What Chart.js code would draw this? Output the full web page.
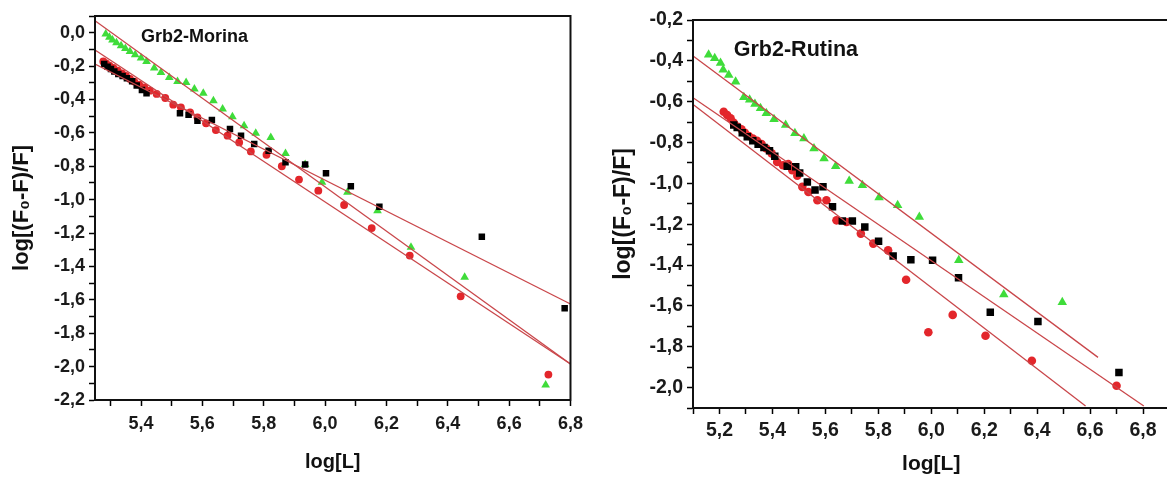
<!DOCTYPE html>
<html>
<head>
<meta charset="utf-8">
<script src="https://cdn.jsdelivr.net/npm/chart.js@4.4.0/dist/chart.umd.min.js"></script>
<style>
  html, body { margin: 0; padding: 0; background: #fff; overflow: hidden; }
  body { width: 1167px; height: 477px; position: relative; }
  .panel { position: absolute; top: 0; }
  #left { left: 0; width: 590px; height: 477px; }
  #right { left: 600px; width: 580px; height: 477px; }
</style>
</head>
<body>
<div class="panel" id="left"><canvas id="chartMorina" width="590" height="477"></canvas></div>
<div class="panel" id="right"><canvas id="chartRutina" width="580" height="477"></canvas></div>
<script>
// ---- Grb2-Morina (left) ----
const morinaBlackX = [5.280, 5.291, 5.302, 5.313, 5.326, 5.340, 5.354, 5.371, 5.386, 5.403, 5.418, 5.527, 5.555, 5.584, 5.631, 5.690, 5.726, 5.769, 5.816, 5.871, 5.935, 6.003, 6.084, 6.177, 6.511, 6.781];
const morinaBlackY = [-0.188, -0.204, -0.218, -0.232, -0.248, -0.260, -0.273, -0.291, -0.317, -0.343, -0.363, -0.483, -0.491, -0.527, -0.523, -0.577, -0.617, -0.667, -0.707, -0.776, -0.790, -0.842, -0.920, -1.042, -1.222, -1.651];
const morinaRedX = [5.277, 5.286, 5.297, 5.310, 5.324, 5.338, 5.351, 5.364, 5.378, 5.394, 5.411, 5.429, 5.451, 5.479, 5.505, 5.530, 5.560, 5.584, 5.612, 5.644, 5.682, 5.720, 5.758, 5.809, 5.859, 5.915, 5.978, 6.062, 6.152, 6.276, 6.442, 6.728];
const morinaRedY = [-0.172, -0.184, -0.198, -0.211, -0.228, -0.244, -0.259, -0.277, -0.293, -0.311, -0.327, -0.347, -0.367, -0.391, -0.431, -0.447, -0.477, -0.507, -0.543, -0.583, -0.617, -0.657, -0.711, -0.731, -0.800, -0.880, -0.946, -1.032, -1.170, -1.335, -1.579, -2.048];
const morinaGreenX = [5.285, 5.297, 5.307, 5.320, 5.335, 5.349, 5.364, 5.381, 5.400, 5.418, 5.443, 5.465, 5.492, 5.519, 5.547, 5.574, 5.603, 5.636, 5.666, 5.698, 5.736, 5.774, 5.823, 5.871, 5.935, 5.990, 6.073, 6.171, 6.280, 6.455, 6.719];
const morinaGreenY = [-0.008, -0.028, -0.044, -0.060, -0.078, -0.094, -0.112, -0.132, -0.152, -0.172, -0.212, -0.238, -0.268, -0.292, -0.298, -0.337, -0.363, -0.407, -0.457, -0.503, -0.557, -0.603, -0.627, -0.723, -0.790, -0.896, -0.956, -1.066, -1.285, -1.465, -2.110];
// fitted lines: [x0, x1], [y0, y1]
const morinaFitBlackX = [5.25, 6.8], morinaFitBlackY = [-0.188, -1.625];
const morinaFitRedX = [5.25, 6.8], morinaFitRedY = [-0.104, -1.984];
const morinaFitGreenX = [5.25, 6.8], morinaFitGreenY = [0.072, -1.984];

// ---- Grb2-Rutina (right) ----
const rutinaBlackX = [5.254, 5.267, 5.286, 5.305, 5.326, 5.346, 5.368, 5.389, 5.409, 5.456, 5.488, 5.503, 5.532, 5.561, 5.591, 5.627, 5.664, 5.702, 5.749, 5.801, 5.856, 5.923, 6.005, 6.103, 6.223, 6.403, 6.709];
const rutinaBlackY = [-0.714, -0.726, -0.752, -0.772, -0.791, -0.808, -0.824, -0.840, -0.867, -0.916, -0.919, -0.949, -0.993, -1.033, -1.017, -1.115, -1.184, -1.184, -1.214, -1.283, -1.356, -1.374, -1.377, -1.462, -1.631, -1.677, -1.926];
const rutinaRedX = [5.216, 5.229, 5.242, 5.254, 5.269, 5.283, 5.296, 5.311, 5.326, 5.342, 5.359, 5.377, 5.397, 5.418, 5.440, 5.460, 5.475, 5.494, 5.513, 5.536, 5.570, 5.604, 5.642, 5.680, 5.734, 5.781, 5.837, 5.905, 5.989, 6.081, 6.205, 6.380, 6.700];
const rutinaRedY = [-0.649, -0.665, -0.681, -0.703, -0.723, -0.735, -0.752, -0.768, -0.780, -0.791, -0.808, -0.829, -0.853, -0.895, -0.911, -0.906, -0.935, -0.963, -1.017, -1.042, -1.083, -1.083, -1.181, -1.189, -1.246, -1.295, -1.328, -1.472, -1.729, -1.644, -1.746, -1.869, -1.991];
const rutinaGreenX = [5.159, 5.182, 5.204, 5.214, 5.235, 5.261, 5.292, 5.314, 5.334, 5.355, 5.377, 5.406, 5.450, 5.485, 5.519, 5.557, 5.595, 5.639, 5.690, 5.740, 5.803, 5.873, 5.955, 6.104, 6.274, 6.495];
const rutinaGreenY = [-0.370, -0.387, -0.411, -0.444, -0.469, -0.502, -0.578, -0.591, -0.611, -0.632, -0.657, -0.686, -0.714, -0.755, -0.780, -0.829, -0.878, -0.916, -0.988, -1.009, -1.069, -1.107, -1.165, -1.377, -1.544, -1.582];
const rutinaFitBlackX = [5.103, 6.803], rutinaFitBlackY = [-0.583, -2.09];
const rutinaFitRedX = [5.103, 6.583], rutinaFitRedY = [-0.616, -2.09];
const rutinaFitGreenX = [5.103, 6.630], rutinaFitGreenY = [-0.379, -1.852];

const FONT = 'Liberation Sans, Arial, Helvetica, sans-serif';
const BLACK = '#000000', RED = '#e3262b', GREEN = '#3fdc3a', FIT = '#c9464a';

function pts(xs, ys) {
    return xs.map((x, i) => ({ x: x, y: ys[i] }));
}
function comma(v) {
    const t = Math.round(v * 10);
    if (t % 2 !== 0) return '';
    const s = (t / 10).toFixed(1).replace('.', ',');
    return s === '-0,0' ? '0,0' : s;
}

// draws the box around the plot and the panel caption
const frameAndCaption = {
    id: 'frameAndCaption',
    afterDraw(chart, args, opts) {
        const { ctx, chartArea: a, scales } = chart;
        ctx.save();
        ctx.strokeStyle = '#111';
        ctx.lineWidth = 2;
        ctx.strokeRect(a.left, a.top, a.right - a.left, a.bottom - a.top);
        ctx.fillStyle = '#111';
        ctx.font = 'bold ' + opts.size + 'px ' + FONT;
        ctx.textBaseline = 'middle';
        ctx.fillText(opts.text, scales.x.getPixelForValue(opts.x), scales.y.getPixelForValue(opts.y));
        ctx.restore();
    }
};

function makeChart(id, sets, cfg) {
    const scatter = (label, data, color, style, r) => ({
        type: 'scatter', label, data,
        backgroundColor: color, borderColor: color, borderWidth: 0,
        pointStyle: style, pointRadius: r, pointHoverRadius: r, order: 2
    });
    const fit = (data) => ({
        type: 'line', data, borderColor: FIT, borderWidth: 1.3,
        pointRadius: 0, fill: false, order: 1
    });
    const axisCommon = {
        type: 'linear',
        grid: { display: true, drawOnChartArea: false, drawTicks: true, tickLength: 6, tickColor: '#000', tickWidth: 1.5 },
        border: { display: true, color: '#000', width: 2 }
    };
    return new Chart(document.getElementById(id), {
        data: {
            datasets: [
                scatter('black', sets.black, BLACK, 'rect', cfg.r[0]),
                scatter('red', sets.red, RED, 'circle', cfg.r[1]),
                scatter('green', sets.green, GREEN, 'triangle', cfg.r[2]),
                fit(sets.fitBlack), fit(sets.fitRed), fit(sets.fitGreen)
            ]
        },
        options: {
            responsive: false,
            animation: false,
            layout: { padding: cfg.padding },
            plugins: {
                legend: { display: false },
                tooltip: { enabled: false },
                frameAndCaption: cfg.caption
            },
            scales: {
                x: {
                    ...axisCommon,
                    position: 'bottom',
                    min: cfg.xMin, max: cfg.xMax,
                    afterFit: (s) => { s.height = cfg.xHeight; },
                    ticks: {
                        stepSize: 0.1, includeBounds: false, autoSkip: false, maxRotation: 0,
                        padding: cfg.xPad, color: '#1a1a1a',
                        font: { family: FONT, size: cfg.tickSize, weight: 'bold' },
                        callback: comma
                    },
                    title: {
                        display: true, text: 'log[L]', color: '#111',
                        font: { family: FONT, size: cfg.xTitleSize, weight: 'bold' },
                        padding: { top: 0, bottom: cfg.xTitlePad }
                    }
                },
                y: {
                    ...axisCommon,
                    position: 'left',
                    min: cfg.yMin, max: cfg.yMax,
                    afterFit: (s) => { s.width = cfg.yWidth; },
                    ticks: {
                        stepSize: 0.1, includeBounds: false, autoSkip: false,
                        padding: 4, color: '#1a1a1a',
                        font: { family: FONT, size: cfg.tickSize, weight: 'bold' },
                        callback: comma
                    },
                    title: {
                        display: true, text: 'log[(F\u2080-F)/F]', color: '#111',
                        font: { family: FONT, size: cfg.yTitleSize, weight: 'bold' },
                        padding: { top: cfg.yTitlePad, bottom: 0 }
                    }
                }
            }
        },
        plugins: [frameAndCaption]
    });
}

makeChart('chartMorina', {
    black: pts(morinaBlackX, morinaBlackY),
    red: pts(morinaRedX, morinaRedY),
    green: pts(morinaGreenX, morinaGreenY),
    fitBlack: pts(morinaFitBlackX, morinaFitBlackY),
    fitRed: pts(morinaFitRedX, morinaFitRedY),
    fitGreen: pts(morinaFitGreenX, morinaFitGreenY)
}, {
    xMin: 5.25, xMax: 6.8, yMin: -2.2, yMax: 0.1,
    padding: { left: 0, top: 16, right: 19, bottom: 0 },
    xHeight: 77, yWidth: 95, xPad: 7, xTitlePad: 3, yTitlePad: 9,
    tickSize: 18, xTitleSize: 20, yTitleSize: 22,
    r: [4.6, 3.9, 5.0],
    caption: { text: 'Grb2-Morina', x: 5.4, y: -0.028, size: 18 }
});

makeChart('chartRutina', {
    black: pts(rutinaBlackX, rutinaBlackY),
    red: pts(rutinaRedX, rutinaRedY),
    green: pts(rutinaGreenX, rutinaGreenY),
    fitBlack: pts(rutinaFitBlackX, rutinaFitBlackY),
    fitRed: pts(rutinaFitRedX, rutinaFitRedY),
    fitGreen: pts(rutinaFitGreenX, rutinaFitGreenY)
}, {
    xMin: 5.1, xMax: 6.9, yMin: -2.1, yMax: -0.2,
    padding: { left: 0, top: 20, right: 10.5, bottom: 0 },
    xHeight: 69, yWidth: 93, xPad: 5, xTitlePad: 0, yTitlePad: 10,
    tickSize: 19.5, xTitleSize: 21, yTitleSize: 23,
    r: [5.3, 4.3, 5.5],
    caption: { text: 'Grb2-Rutina', x: 5.254, y: -0.346, size: 21.5 }
});
</script>
</body>
</html>
